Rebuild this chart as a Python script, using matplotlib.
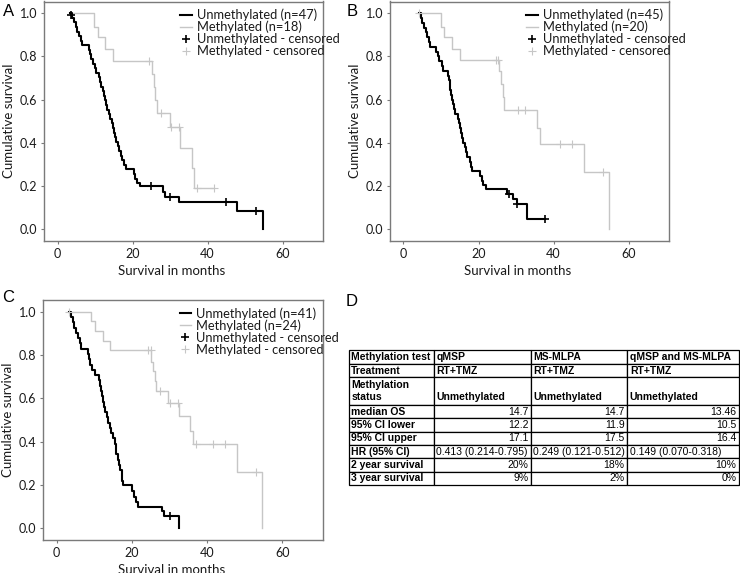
import matplotlib
matplotlib.use('Agg')
import matplotlib.pyplot as plt
from matplotlib.lines import Line2D

# ── Kaplan-Meier curves ───────────────────────────────────────────────────────
# Panel A (qMSP)
a_unm_t = [3.3, 3.8, 4.3, 4.8, 5.3, 5.8, 6.2, 6.5, 8.4, 8.7, 9.0, 9.5, 9.9, 10.2,
           11.1, 11.4, 11.7, 12.0, 12.3, 12.6, 12.9, 13.2, 13.6, 14.0, 14.4, 14.8,
           15.0, 15.3, 15.6, 16.0, 16.4, 16.8, 17.1, 17.6, 18.2, 20.3, 20.6, 21.3,
           22.0, 28.0, 28.7, 32.4, 47.8, 54.7]
a_unm_s = [1.0, 0.979, 0.957, 0.936, 0.915, 0.894, 0.872, 0.851, 0.830, 0.809, 0.787,
           0.766, 0.745, 0.723, 0.702, 0.681, 0.660, 0.638, 0.617, 0.596, 0.574, 0.553,
           0.532, 0.511, 0.489, 0.468, 0.447, 0.426, 0.404, 0.383, 0.362, 0.340, 0.319,
           0.298, 0.277, 0.255, 0.234, 0.213, 0.198, 0.173, 0.148, 0.123, 0.082, 0.0]
a_unm_ct = [3.6, 24.9, 30.0, 44.9, 52.9]
a_unm_cs = [0.99, 0.198, 0.148, 0.123, 0.082]
a_met_t = [3.6, 9.6, 10.7, 12.7, 14.7, 25.2, 25.6, 26.0, 26.4, 30.0, 32.6, 35.8, 36.4, 41.8]
a_met_s = [1.0, 0.938, 0.889, 0.833, 0.778, 0.718, 0.658, 0.598, 0.538, 0.471, 0.377,
           0.283, 0.188, 0.188]
a_met_ct = [24.3, 27.7, 30.2, 32.4, 37.3, 41.8]
a_met_cs = [0.778, 0.538, 0.471, 0.471, 0.188, 0.188]

# Panel B (MS-MLPA)
b_unm_t = [4.2, 4.6, 5.0, 5.5, 6.0, 6.4, 6.8, 7.1, 8.8, 9.1, 9.5, 10.2, 10.6, 11.9,
           12.1, 12.3, 12.5, 12.7, 12.9, 13.1, 13.4, 13.8, 14.6, 14.9, 15.1, 15.4,
           15.7, 16.0, 16.3, 16.6, 17.0, 17.6, 18.0, 18.4, 20.3, 20.8, 21.3, 21.9,
           27.6, 29.3, 30.3, 32.8, 37.6]
b_unm_s = [1.0, 0.978, 0.956, 0.933, 0.911, 0.889, 0.867, 0.844, 0.822, 0.800, 0.778,
           0.756, 0.733, 0.711, 0.689, 0.667, 0.644, 0.622, 0.600, 0.578, 0.556, 0.533,
           0.511, 0.489, 0.467, 0.444, 0.422, 0.400, 0.378, 0.356, 0.333, 0.311, 0.289,
           0.267, 0.244, 0.222, 0.204, 0.185, 0.163, 0.139, 0.115, 0.047, 0.047]
b_unm_ct = [28.1, 30.3, 37.6]
b_unm_cs = [0.163, 0.115, 0.047]
b_met_t = [4.2, 9.9, 10.8, 13.0, 15.1, 25.5, 26.0, 26.4, 26.8, 35.6, 36.3, 48.0, 54.7]
b_met_s = [1.0, 0.938, 0.889, 0.835, 0.784, 0.73, 0.67, 0.61, 0.55, 0.47, 0.395, 0.265, 0.0]
b_met_ct = [4.2, 24.6, 25.3, 30.6, 32.5, 41.8, 44.9, 53.1]
b_met_cs = [1.0, 0.784, 0.784, 0.55, 0.55, 0.395, 0.395, 0.265]

# Panel C (qMSP and MS-MLPA)
c_unm_t = [3.4, 3.8, 4.3, 4.7, 5.2, 5.8, 6.3, 6.6, 8.3, 8.6, 8.9, 9.5, 10.1, 11.2,
           11.5, 11.8, 12.1, 12.4, 12.7, 13.0, 13.3, 13.7, 14.2, 14.6, 15.0, 15.5,
           15.7, 15.9, 16.3, 16.6, 16.9, 17.3, 17.7, 20.1, 20.5, 21.2, 21.7, 27.9,
           28.5, 32.6]
c_unm_s = [1.0, 0.976, 0.951, 0.927, 0.902, 0.878, 0.854, 0.829, 0.805, 0.780, 0.756,
           0.732, 0.707, 0.683, 0.659, 0.634, 0.610, 0.585, 0.561, 0.537, 0.512, 0.488,
           0.463, 0.439, 0.415, 0.390, 0.366, 0.341, 0.317, 0.293, 0.268, 0.220, 0.198,
           0.171, 0.146, 0.122, 0.100, 0.078, 0.055, 0.0]
c_unm_ct = [30.1]
c_unm_cs = [0.055]
c_met_t = [3.4, 9.2, 10.1, 12.3, 14.1, 25.2, 25.7, 26.1, 26.4, 29.7, 32.6, 35.5, 36.2, 48.0, 54.5]
c_met_s = [1.0, 0.955, 0.91, 0.865, 0.825, 0.77, 0.727, 0.68, 0.635, 0.577, 0.519,
           0.45, 0.387, 0.26, 0.0]
c_met_ct = [3.4, 24.2, 25.0, 27.6, 30.1, 32.4, 37.1, 41.7, 44.8, 52.9]
c_met_cs = [1.0, 0.825, 0.825, 0.635, 0.577, 0.577, 0.387, 0.387, 0.387, 0.26]

n_unm = [47, 45, 41]
n_met = [18, 20, 24]

# ── Table D ───────────────────────────────────────────────────────────────────
tbl_header = ['Methylation test', 'qMSP', 'MS-MLPA', 'qMSP and MS-MLPA']
tbl_treat = ['Treatment', 'RT+TMZ', 'RT+TMZ', 'RT+TMZ']
tbl_status = ['Methylation\nstatus', '\nUnmethylated', '\nUnmethylated', '\nUnmethylated']
tbl_median = ['median OS', '14.7', '14.7', '13.46']
tbl_ci_low = ['95% CI lower', '12.2', '11.9', '10.5']
tbl_ci_up = ['95% CI upper', '17.1', '17.5', '16.4']
tbl_hr = ['HR (95% CI)', '0.413 (0.214-0.795)', '0.249 (0.121-0.512)', '0.149 (0.070-0.318)']
tbl_2y = ['2 year survival', '20%', '18%', '10%']
tbl_3y = ['3 year survival', '9%', '2%', '0%']

# ── Figure ────────────────────────────────────────────────────────────────────
W, H = 740, 573
fig = plt.figure(figsize=(W / 100, H / 100), dpi=100)
plt.rcParams['font.family'] = ['Lato', 'DejaVu Sans']

BLACK = '#000000'
GREY = '#c6c6c6'
SPINE = '#7a7a7a'
TXT = '#1a1a1a'


def px_axes(l, t, r, b):
    return fig.add_axes([l / W, 1 - b / H, (r - l) / W, (b - t) / H])


def km_panel(ax, ut, us, uct, ucs, mt, ms, mct, mcs, nu, nm):
    ax.step(mt, ms, where='post', color=GREY, lw=1.0)
    ax.step(ut, us, where='post', color=BLACK, lw=1.5)
    ax.plot(mct, mcs, '+', color=GREY, ms=6, mew=0.8, ls='none')
    ax.plot(uct, ucs, '+', color=BLACK, ms=6, mew=1.2, ls='none')
    ax.set_xlim(-3.6, 70.8)
    ax.set_ylim(-0.054, 1.054)
    ax.set_xticks([0, 20, 40, 60])
    ax.set_yticks([0, 0.2, 0.4, 0.6, 0.8, 1.0])
    ax.set_yticklabels(['0.0', '0.2', '0.4', '0.6', '0.8', '1.0'])
    ax.tick_params(colors=SPINE, labelcolor=TXT, labelsize=9, length=2.5,
                   width=0.8, pad=2.5)
    for sp in ax.spines.values():
        sp.set_color(SPINE)
        sp.set_linewidth(1.0)
    ax.set_xlabel('Survival in months', fontsize=9.5, color=TXT, labelpad=4)
    ax.xaxis.set_label_coords(0.458, -0.1)
    ax.xaxis.label.set_va('top')
    ax.set_ylabel('Cumulative survival', fontsize=9.5, color=TXT, labelpad=3)
    handles = [Line2D([], [], color=BLACK, lw=1.5),
               Line2D([], [], color=GREY, lw=1.0),
               Line2D([], [], color=BLACK, marker='+', ls='none', ms=6, mew=1.2),
               Line2D([], [], color=GREY, marker='+', ls='none', ms=6, mew=0.8)]
    labels = [f'Unmethylated (n={nu})', f'Methylated (n={nm})',
              'Unmethylated - censored', 'Methylated - censored']
    leg = ax.legend(handles, labels, loc='upper left', bbox_to_anchor=(0.46, 1.003),
                    frameon=False, fontsize=9.3, handlelength=0.9, handletextpad=0.4,
                    labelspacing=-0.01, borderaxespad=0.2)
    for t in leg.get_texts():
        t.set_color(TXT)


axA = px_axes(44, 1.5, 323, 240.7)
km_panel(axA, a_unm_t, a_unm_s, a_unm_ct, a_unm_cs,
         a_met_t, a_met_s, a_met_ct, a_met_cs, n_unm[0], n_met[0])
axB = px_axes(390, 1.5, 669, 240.7)
km_panel(axB, b_unm_t, b_unm_s, b_unm_ct, b_unm_cs,
         b_met_t, b_met_s, b_met_ct, b_met_cs, n_unm[1], n_met[1])
axC = px_axes(43, 300, 323, 540)
km_panel(axC, c_unm_t, c_unm_s, c_unm_ct, c_unm_cs,
         c_met_t, c_met_s, c_met_ct, c_met_cs, n_unm[2], n_met[2])

# panel letters
for lab, x, y in [('A', 3, 11), ('B', 347, 11), ('C', 2, 297), ('D', 346, 302)]:
    fig.text(x / W, 1 - y / H, lab, fontsize=12, family='Liberation Sans',
             va='center', ha='left')

# table
axT = px_axes(349, 350, 739, 485)
axT.axis('off')
rows = [tbl_header, tbl_treat, tbl_status, tbl_median, tbl_ci_low, tbl_ci_up,
        tbl_hr, tbl_2y, tbl_3y]
col_w = [85, 97, 96, 112]
row_h = [14, 13, 28, 13.3, 13.3, 13.3, 13.3, 13.3, 13.3]
tbl = axT.table(cellText=rows, colWidths=[w / sum(col_w) for w in col_w],
                cellLoc='right', bbox=[0, 0, 1, 1])
tbl.auto_set_font_size(False)
tbl.set_fontsize(7.5)
for (r, c), cell in tbl.get_celld().items():
    cell.set_height(row_h[r])
    cell.set_linewidth(0.9)
    cell.set_edgecolor('black')
    cell.PAD = 0.025
    txt = cell.get_text()
    txt.set_fontfamily('Liberation Sans')
    txt.set_linespacing(1.25)
    if c == 0 or r <= 2 or r == 6:
        cell._loc = 'left'
        txt.set_ha('left')
    if c == 0 or r <= 2:
        txt.set_fontweight('bold')

fig.savefig('out.png', dpi=100)
